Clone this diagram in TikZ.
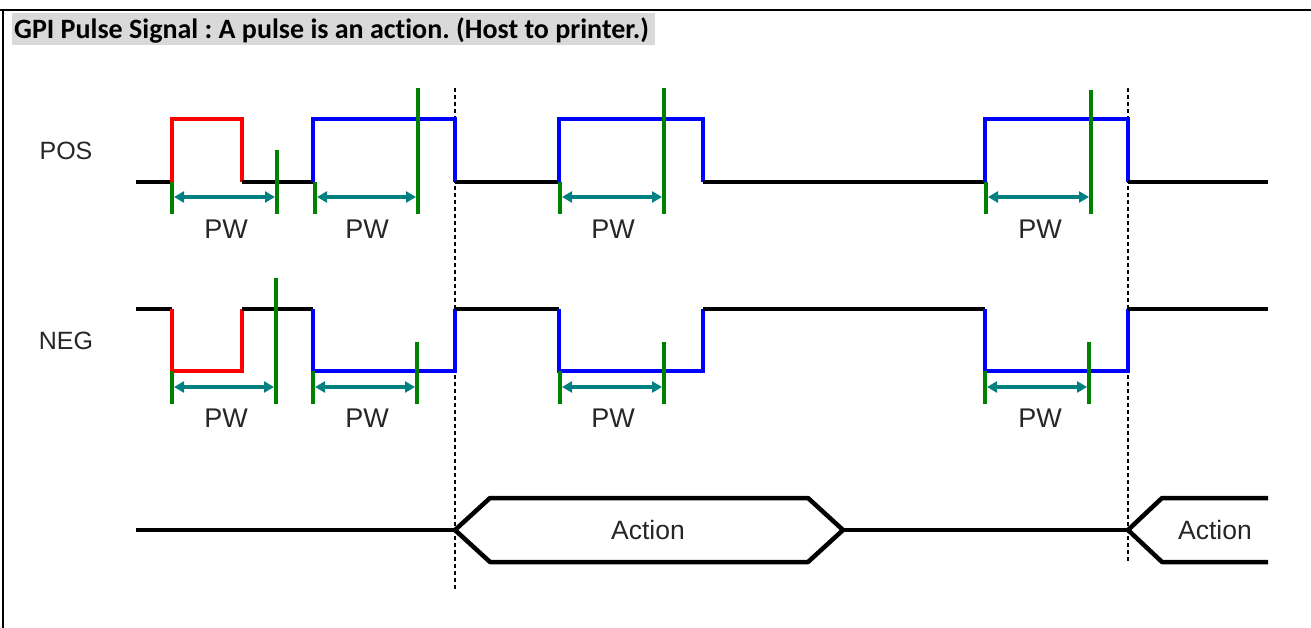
\documentclass[tikz,border=0pt]{standalone}
\usepackage{fontspec}
\setmainfont{Liberation Sans}
\newfontfamily\titlefont[Ligatures=NoCommon]{Carlito}
\usetikzlibrary{arrows.meta}
\definecolor{mygreen}{RGB}{0,128,0}
\definecolor{myteal}{RGB}{0,128,128}
\definecolor{titlegray}{RGB}{217,217,217}
\frenchspacing
\begin{document}
\begin{tikzpicture}[x=1pt,y=-1pt,
  sig/.style={line width=4pt,line join=miter},
  lvl/.style={sig,black},
  redp/.style={sig,red},
  bluep/.style={sig,blue},
  marker/.style={line width=4pt,mygreen},
  pwarrow/.style={line width=3.2pt,myteal,{Triangle[length=10pt,width=11pt]}-{Triangle[length=10pt,width=11pt]},shorten <=2pt,shorten >=2pt},
  pwlabel/.style={font=\fontsize{27}{29}\selectfont,text=black!85},
  siglabel/.style={font=\fontsize{25}{27}\selectfont,text=black!85},
  actlabel/.style={font=\fontsize{26.5}{28}\selectfont,text=black!85},
  guide/.style={line width=1.5pt,dash pattern=on 4pt off 3pt},
  bus/.style={line width=4.5pt,line join=round}
]
\useasboundingbox (0,0) rectangle (1311,628);
% frame
\draw[line width=2pt] (0,10) -- (1311,10);
\draw[line width=2.5pt] (3,10) -- (3,628);
% title
\fill[titlegray] (12,13) rectangle (655,45);
\node[anchor=west,font=\titlefont\bfseries\fontsize{28}{30}\selectfont,inner sep=0pt] (title) at (14,30) {GPI Pulse Signal : A pulse is an action. (Host to printer.)};

% labels
\node[siglabel] (pos) at (66,151) {POS};
\node[siglabel] (neg) at (66,341) {NEG};

% guides
\draw[guide] (455,88) -- (455,590);
\draw[guide] (1128,88) -- (1128,562);

% ---------- POS ----------
\draw[lvl] (136,182) -- (172,182);
\draw[redp] (172,182) -- (172,119) -- (242,119) -- (242,182);
\draw[lvl] (242,182) -- (313,182);
\draw[bluep] (313,182) -- (313,119) -- (455,119) -- (455,182);
\draw[lvl] (455,182) -- (559,182);
\draw[bluep] (559,182) -- (559,119) -- (703,119) -- (703,182);
\draw[lvl] (703,182) -- (985,182);
\draw[bluep] (985,182) -- (985,119) -- (1128,119) -- (1128,182);
\draw[lvl] (1128,182) -- (1268,182);

% POS markers
\foreach \n/\x/\yt in {pa/172/182,pb/277/150,pc/315/182,pd/418/88,pe/560/182,pf/664/88,pg/986/182,ph/1091/90}{
  \draw[marker] (\x,\yt) -- (\x,214);
  \coordinate (\n) at (\x,197);
}
\draw[pwarrow] (pa) -- (pb);
\draw[pwarrow] (pc) -- (pd);
\draw[pwarrow] (pe) -- (pf);
\draw[pwarrow] (pg) -- (ph);
\node[pwlabel] (pw1) at (226,229) {PW};
\node[pwlabel] (pw2) at (367,229) {PW};
\node[pwlabel] (pw3) at (613,229) {PW};
\node[pwlabel] (pw4) at (1040,229) {PW};

% ---------- NEG ----------
\draw[lvl] (136,309) -- (172,309);
\draw[redp] (172,309) -- (172,371) -- (242,371) -- (242,309);
\draw[lvl] (242,309) -- (313,309);
\draw[bluep] (313,309) -- (313,371) -- (455,371) -- (455,309);
\draw[lvl] (455,309) -- (559,309);
\draw[bluep] (559,309) -- (559,371) -- (703,371) -- (703,309);
\draw[lvl] (703,309) -- (985,309);
\draw[bluep] (985,309) -- (985,371) -- (1128,371) -- (1128,309);
\draw[lvl] (1128,309) -- (1268,309);

% NEG markers
\foreach \n/\x/\yt in {na/172/371,nb/276/278,nc/313/371,nd/417/342,ne/560/371,nf/664/342,ng/985/371,nh/1089/342}{
  \draw[marker] (\x,\yt) -- (\x,404);
  \coordinate (\n) at (\x,387);
}
\draw[pwarrow] (na) -- (nb);
\draw[pwarrow] (nc) -- (nd);
\draw[pwarrow] (ne) -- (nf);
\draw[pwarrow] (ng) -- (nh);
\node[pwlabel] (pw5) at (226,418) {PW};
\node[pwlabel] (pw6) at (367,418) {PW};
\node[pwlabel] (pw7) at (613,418) {PW};
\node[pwlabel] (pw8) at (1040,418) {PW};

% ---------- Action bus ----------
\draw[bus] (136,530) -- (455,530);
\draw[bus] (455,530) -- (490,498) -- (808,498) -- (843,530) -- (808,562) -- (490,562) -- cycle;
\draw[bus] (843,530) -- (1128,530);
\draw[bus] (1268,498) -- (1162,498) -- (1128,530) -- (1162,562) -- (1268,562);
\node[actlabel] (act1) at (648,530) {Action};
\node[actlabel] (act2) at (1215,530) {Action};
\end{tikzpicture}
\end{document}
